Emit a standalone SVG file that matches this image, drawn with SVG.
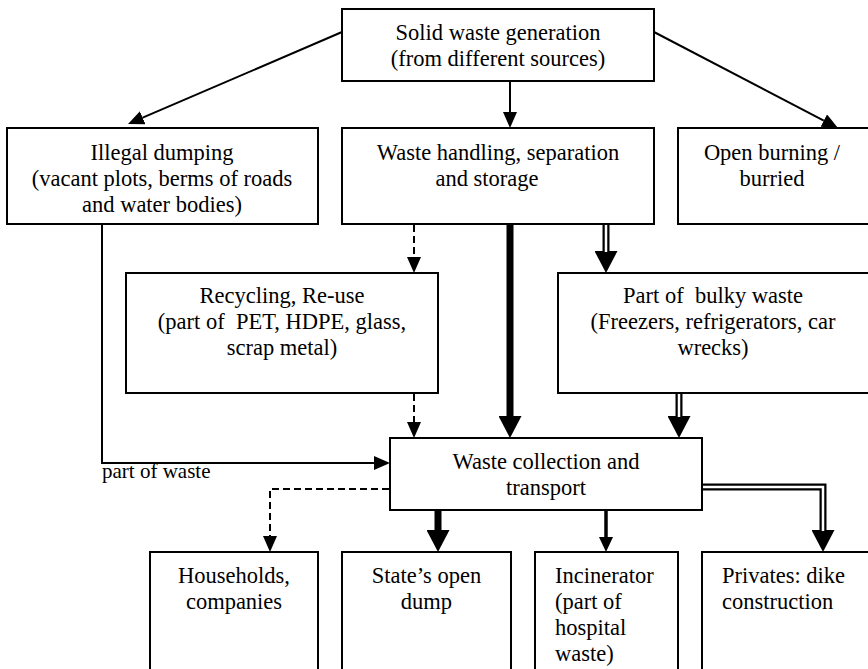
<svg xmlns="http://www.w3.org/2000/svg" width="868" height="669" viewBox="0 0 868 669">
<style>
.box{fill:#fff;stroke:#000;stroke-width:2}
.t{font-family:"Liberation Serif","Times New Roman",serif;font-size:22.5px;fill:#000}
.c{text-anchor:middle}
.ln{fill:none;stroke:#000;stroke-width:2}
.dash{fill:none;stroke:#000;stroke-width:2;stroke-dasharray:7 4}
.thick{fill:none;stroke:#000;stroke-width:7}
.mid{fill:none;stroke:#000;stroke-width:3.5}
.dbl{fill:none;stroke:#000;stroke-width:7;stroke-linejoin:miter}
.dblw{fill:none;stroke:#fff;stroke-width:2.5;stroke-linejoin:miter}
.lbl{font-family:"Liberation Serif","Times New Roman",serif;font-size:21px;fill:#000}
</style>
<defs>
<marker id="ms" markerUnits="userSpaceOnUse" markerWidth="16" markerHeight="14" refX="0" refY="7" orient="auto"><path d="M0,0 L16,7 L0,14 z" fill="#000"/></marker>
<marker id="mm" markerUnits="userSpaceOnUse" markerWidth="15" markerHeight="14" refX="0" refY="7" orient="auto"><path d="M0,0 L15,7 L0,14 z" fill="#000"/></marker>
<marker id="ml" markerUnits="userSpaceOnUse" markerWidth="22" markerHeight="23" refX="0" refY="11.5" orient="auto"><path d="M0,0 L22,11.5 L0,23 z" fill="#000"/></marker>
</defs>
<rect width="868" height="669" fill="#fff"/>

<g id="connectors">
<line class="ln" x1="342" y1="32" x2="142.7" y2="117.7" marker-end="url(#ms)"/>
<line class="ln" x1="654" y1="32" x2="823.8" y2="120.6" marker-end="url(#ms)"/>
<line class="ln" x1="510" y1="81" x2="510" y2="112" marker-end="url(#ms)"/>
<line class="dash" x1="414" y1="225" x2="414" y2="257" marker-end="url(#ms)"/>
<line class="dash" x1="414" y1="394" x2="414" y2="422" marker-end="url(#ms)"/>
<line class="thick" x1="510" y1="225" x2="510" y2="416" marker-end="url(#ml)"/>
<line class="dbl" x1="606" y1="225" x2="606" y2="251" marker-end="url(#ml)"/>
<line class="dblw" x1="606" y1="225" x2="606" y2="252"/>
<line class="dbl" x1="679" y1="394" x2="679" y2="416" marker-end="url(#ml)"/>
<line class="dblw" x1="679" y1="394" x2="679" y2="417"/>
<path class="ln" d="M102,225 V463 H374" marker-end="url(#ms)"/>
<path class="dash" d="M389,489 H270 V536" marker-end="url(#ms)"/>
<line class="thick" x1="438" y1="511" x2="438" y2="530" marker-end="url(#ml)"/>
<line class="mid" x1="606" y1="511" x2="606" y2="537" marker-end="url(#mm)"/>
<path class="dbl" d="M703,487 H823 V530" marker-end="url(#ml)"/>
<path class="dblw" d="M703,487 H823 V531"/>
<text class="lbl" x="102" y="478">part of waste</text>
</g>

<g id="n-generation">
<rect class="box" x="342" y="9" width="312" height="72"/>
<text class="t c" x="498" y="40">Solid waste generation</text>
<text class="t c" x="498" y="66">(from different sources)</text>
</g>
<g id="n-illegal">
<rect class="box" x="7" y="128" width="311" height="96"/>
<text class="t c" x="162" y="160">Illegal dumping</text>
<text class="t c" x="162" y="186">(vacant plots, berms of roads</text>
<text class="t c" x="162" y="212">and water bodies)</text>
</g>
<g id="n-handling">
<rect class="box" x="342" y="128" width="312" height="96"/>
<text class="t c" x="498" y="160">Waste handling, separation</text>
<text class="t c" x="487" y="186">and storage</text>
</g>
<g id="n-burning">
<rect class="box" x="678" y="128" width="200" height="96"/>
<text class="t c" x="772" y="160">Open burning /</text>
<text class="t c" x="772" y="186">burried</text>
</g>
<g id="n-recycling">
<rect class="box" x="126" y="273" width="312" height="120"/>
<text class="t c" x="282" y="303">Recycling, Re-use</text>
<text class="t c" x="282" y="329" xml:space="preserve">(part of  PET, HDPE, glass,</text>
<text class="t c" x="282" y="355">scrap metal)</text>
</g>
<g id="n-bulky">
<rect class="box" x="558" y="273" width="320" height="120"/>
<text class="t c" x="713" y="303" xml:space="preserve">Part of  bulky waste</text>
<text class="t c" x="713" y="329">(Freezers, refrigerators, car</text>
<text class="t c" x="713" y="355">wrecks)</text>
</g>
<g id="n-collection">
<rect class="box" x="390" y="438" width="312" height="72"/>
<text class="t c" x="546" y="469">Waste collection and</text>
<text class="t c" x="546" y="495">transport</text>
</g>
<g id="n-households">
<rect class="box" x="150" y="552" width="168" height="130"/>
<text class="t c" x="234" y="583">Households,</text>
<text class="t c" x="234" y="609">companies</text>
</g>
<g id="n-dump">
<rect class="box" x="342" y="552" width="169" height="130"/>
<text class="t c" x="426.5" y="583">State’s open</text>
<text class="t c" x="426.5" y="609">dump</text>
</g>
<g id="n-incinerator">
<rect class="box" x="535" y="552" width="143" height="130"/>
<text class="t" x="555" y="583">Incinerator</text>
<text class="t" x="555" y="609">(part of</text>
<text class="t" x="555" y="635">hospital</text>
<text class="t" x="555" y="661">waste)</text>
</g>
<g id="n-privates">
<rect class="box" x="702" y="552" width="176" height="130"/>
<text class="t" x="722" y="583">Privates: dike</text>
<text class="t" x="722" y="609">construction</text>
</g>
</svg>
